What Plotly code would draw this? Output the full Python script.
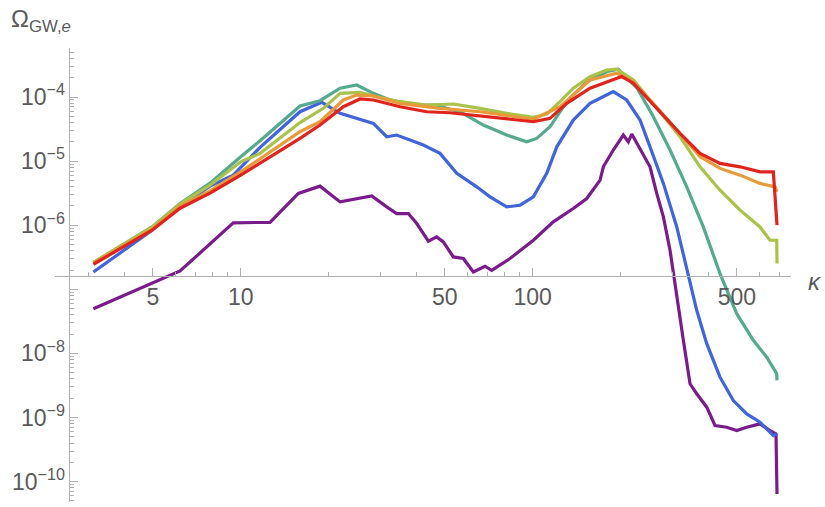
import plotly.graph_objects as go

# ---- data ----
kappa_purple = [3.13, 6.20, 9.43, 12.60, 15.75, 18.69, 21.89, 25.62, 28.10, 31.62, 34.21, 37.50, 40.07,
                43.91, 46.91, 49.41, 53.48, 57.86, 62.61, 68.64, 72.37, 83.60, 100.5, 117.6, 137.7, 153.1,
                170.1, 174.5, 188.8, 204.3, 212.5, 218.3, 236.2, 252.2, 265.9, 280.2, 295.3, 307.1, 328.0,
                345.7, 364.4, 394.4, 421.0, 461.7, 499.7, 540.6, 600.4, 649.6, 681.0, 686.4]
omega_purple = [4.99e-8, 1.93e-7, 1.09e-6, 1.11e-6, 3.13e-6, 4.07e-6, 2.31e-6, 2.61e-6, 2.87e-6, 1.93e-6,
                1.52e-6, 1.52e-6, 1.06e-6, 5.62e-7, 6.56e-7, 5.48e-7, 3.20e-7, 3.02e-7, 1.86e-7, 2.29e-7,
                1.98e-7, 3.02e-7, 5.83e-7, 1.13e-6, 1.82e-6, 2.61e-6, 5.05e-6, 8.15e-6, 1.49e-5, 2.55e-5,
                2.00e-5, 2.64e-5, 1.40e-5, 8.15e-6, 3.13e-6, 1.35e-6, 4.07e-7, 1.15e-7, 1.60e-8, 3.36e-9,
                2.35e-9, 1.45e-9, 7.50e-10, 7.05e-10, 6.26e-10, 7.05e-10, 7.97e-10, 6.26e-10, 5.56e-10, 6.43e-11]

kappa_blue = [3.13, 4.97, 6.20, 7.85, 9.43, 11.65, 15.96, 18.94, 21.89, 24.96, 28.46, 31.62, 34.21, 42.21,
              48.14, 54.93, 64.30, 71.42, 81.47, 90.47, 100.5, 111.7, 120.9, 137.7, 157.1, 170.1, 188.8,
              209.8, 233.1, 252.2, 280.2, 311.4, 341.2, 364.4, 394.4, 437.9, 486.4, 540.6, 600.4, 666.8, 686.4]
omega_blue = [1.86e-7, 8.35e-7, 1.98e-6, 4.07e-6, 6.04e-6, 1.64e-5, 5.89e-5, 8.26e-5, 5.56e-5, 4.65e-5,
              3.88e-5, 2.40e-5, 2.55e-5, 1.78e-5, 1.32e-5, 6.43e-6, 3.97e-6, 2.77e-6, 1.93e-6, 2.05e-6,
              2.77e-6, 6.43e-6, 1.67e-5, 4.37e-5, 7.97e-5, 9.55e-5, 1.21e-4, 8.98e-5, 4.37e-5, 1.67e-5,
              4.49e-6, 9.40e-7, 1.76e-7, 4.70e-8, 1.42e-8, 4.26e-9, 1.84e-9, 1.14e-9, 8.45e-10, 5.23e-10, 5.62e-10]

kappa_teal = [3.13, 4.97, 6.20, 7.85, 10.0, 11.65, 15.96, 18.69, 21.89, 24.96, 28.46, 32.45, 40.07, 46.91,
              52.11, 56.43, 67.73, 81.47, 95.39, 103.2, 114.6, 130.8, 153.1, 179.2, 196.4, 227.6, 258.2,
              295.3, 336.9, 383.9, 437.9, 499.7, 569.5, 633.0, 684.8, 686.4]
omega_teal = [2.61e-7, 9.40e-7, 2.18e-6, 4.53e-6, 1.17e-5, 2.08e-5, 7.23e-5, 8.75e-5, 1.37e-4, 1.54e-4,
              1.14e-4, 8.98e-5, 7.50e-5, 7.50e-5, 6.43e-5, 5.89e-5, 3.65e-5, 2.55e-5, 2.00e-5, 2.26e-5,
              3.43e-5, 8.45e-5, 1.73e-4, 2.48e-4, 2.71e-4, 1.38e-4, 5.05e-5, 1.49e-5, 3.97e-6, 9.40e-7,
              1.76e-7, 4.17e-8, 1.60e-8, 8.75e-9, 4.82e-9, 3.79e-9]

kappa_green = [3.13, 4.97, 6.20, 7.85, 10.0, 11.65, 15.96, 19.18, 21.89, 25.62, 29.23, 35.13, 43.35, 53.48,
               66.0, 81.47, 100.5, 111.7, 124.0, 137.7, 157.1, 179.2, 194.0, 221.1, 272.9, 319.5, 374.1,
               437.9, 512.9, 600.4, 649.6, 684.8, 686.4]
omega_green = [2.64e-7, 9.30e-7, 2.13e-6, 4.22e-6, 9.75e-6, 1.32e-5, 4.00e-5, 6.66e-5, 1.14e-4, 1.18e-4,
               1.01e-4, 8.45e-5, 7.50e-5, 7.78e-5, 6.66e-5, 5.56e-5, 4.82e-5, 5.42e-5, 8.45e-5, 1.37e-4,
               2.08e-4, 2.64e-4, 2.71e-4, 1.84e-4, 5.83e-5, 2.40e-5, 8.15e-6, 3.52e-6, 1.72e-6, 9.40e-7,
               5.83e-7, 5.83e-7, 2.52e-7]

kappa_orange = [3.13, 4.97, 6.20, 7.85, 10.0, 11.65, 15.96, 18.69, 22.46, 24.96, 28.46, 35.13, 48.14, 66.0,
                100.5, 124.0, 157.1, 194.0, 221.1, 272.9, 319.5, 374.1, 437.9, 512.9, 600.4, 675.8, 686.4]
omega_orange = [2.55e-7, 8.66e-7, 1.98e-6, 3.44e-6, 6.81e-6, 1.10e-5, 2.87e-5, 4.11e-5, 8.98e-5, 1.07e-4,
                1.04e-4, 7.97e-5, 6.66e-5, 5.89e-5, 4.49e-5, 7.05e-5, 1.84e-4, 2.35e-4, 1.72e-4, 6.04e-5,
                2.69e-5, 1.17e-5, 7.69e-6, 6.04e-6, 4.49e-6, 3.97e-6, 3.31e-6]

kappa_red = [3.13, 4.97, 6.20, 7.85, 10.0, 11.65, 15.96, 18.69, 22.46, 25.62, 28.46, 35.13, 43.35, 52.11,
             66.0, 81.47, 100.5, 114.6, 130.8, 157.1, 188.8, 201.8, 221.1, 272.9, 319.5, 374.1, 437.9,
             512.9, 600.4, 666.8, 686.4]
omega_red = [2.46e-7, 8.35e-7, 1.84e-6, 3.16e-6, 6.04e-6, 9.21e-6, 2.26e-5, 3.65e-5, 7.05e-5, 9.31e-5,
             8.98e-5, 7.05e-5, 5.89e-5, 5.68e-5, 5.05e-5, 4.49e-5, 4.11e-5, 4.65e-5, 7.97e-5, 1.37e-4,
             1.89e-4, 2.08e-4, 1.64e-4, 5.89e-5, 2.71e-5, 1.32e-5, 9.21e-6, 8.15e-6, 6.81e-6, 6.81e-6, 1.0e-6]

x_tick_vals = [5, 10, 50, 100, 500]
x_tick_text = ["5", "10", "50", "100", "500"]
y_tick_vals = [1e-4, 1e-5, 1e-6, 1e-7, 1e-8, 1e-9, 1e-10]
y_tick_text = ["10<sup>−4</sup>", "10<sup>−5</sup>", "10<sup>−6</sup>", " ",
               "10<sup>−8</sup>", "10<sup>−9</sup>", "10<sup>−10</sup>"]

series = [
    (kappa_purple, omega_purple, "#7a1b8c"),
    (kappa_blue, omega_blue, "#3f64db"),
    (kappa_teal, omega_teal, "#54a98e"),
    (kappa_green, omega_green, "#a9c24a"),
    (kappa_orange, omega_orange, "#e99a38"),
    (kappa_red, omega_red, "#e0231c"),
]

fig = go.Figure()
for kx, oy, col in series:
    fig.add_trace(go.Scatter(x=kx, y=oy, mode="lines",
                             line=dict(color=col, width=3.2), showlegend=False, hoverinfo="skip"))

axis_col = "#b0b0b0"
font_col = "#5a5a5a"
fam = "Liberation Sans, Arial, sans-serif"
fs = 23

x_minor = [m * 10 ** d for d in range(0, 3) for m in range(2, 10) if m != 5 and m * 10 ** d < 800]
y_minor = [m * 10.0 ** d for d in range(-11, -3) for m in range(2, 10)]

fig.update_layout(
    width=825, height=507,
    margin=dict(l=55, r=34, t=48, b=5),
    paper_bgcolor="white", plot_bgcolor="white",
    font=dict(family=fam, color=font_col, size=fs),
    xaxis=dict(type="log", range=[0.364, 2.8845], anchor="free", position=0.4978,
               showgrid=False, zeroline=False, showline=True, linecolor=axis_col, linewidth=1,
               tickmode="array", tickvals=x_tick_vals, ticktext=x_tick_text,
               ticks="inside", ticklen=8, tickcolor=axis_col, tickwidth=1,
               tickfont=dict(size=fs, color=font_col, family=fam),
               minor=dict(tickmode="array", tickvals=x_minor, ticks="inside", ticklen=4,
                          tickcolor=axis_col, showgrid=False)),
    yaxis=dict(type="log", range=[-10.318, -3.2356], anchor="free", position=0.0197,
               showgrid=False, zeroline=False, showline=True, linecolor=axis_col, linewidth=1,
               tickmode="array", tickvals=y_tick_vals, ticktext=y_tick_text,
               ticks="inside", ticklen=8, tickcolor=axis_col, tickwidth=1,
               tickfont=dict(size=fs, color=font_col, family=fam),
               minor=dict(tickmode="array", tickvals=y_minor, ticks="inside", ticklen=4,
                          tickcolor=axis_col, showgrid=False)),
    annotations=[
        dict(text="Ω<sub>GW,<i>e</i></sub>", xref="paper", yref="paper",
             x=-0.063, y=1.10, xanchor="left", yanchor="top", showarrow=False,
             font=dict(size=24, color=font_col, family=fam)),
        dict(text="<i>κ</i>", xref="paper", yref="paper",
             x=1.0326, y=0.4846, xanchor="center", yanchor="middle", showarrow=False,
             font=dict(size=24, color=font_col, family=fam)),
    ],
)

fig.write_html("out.html")
